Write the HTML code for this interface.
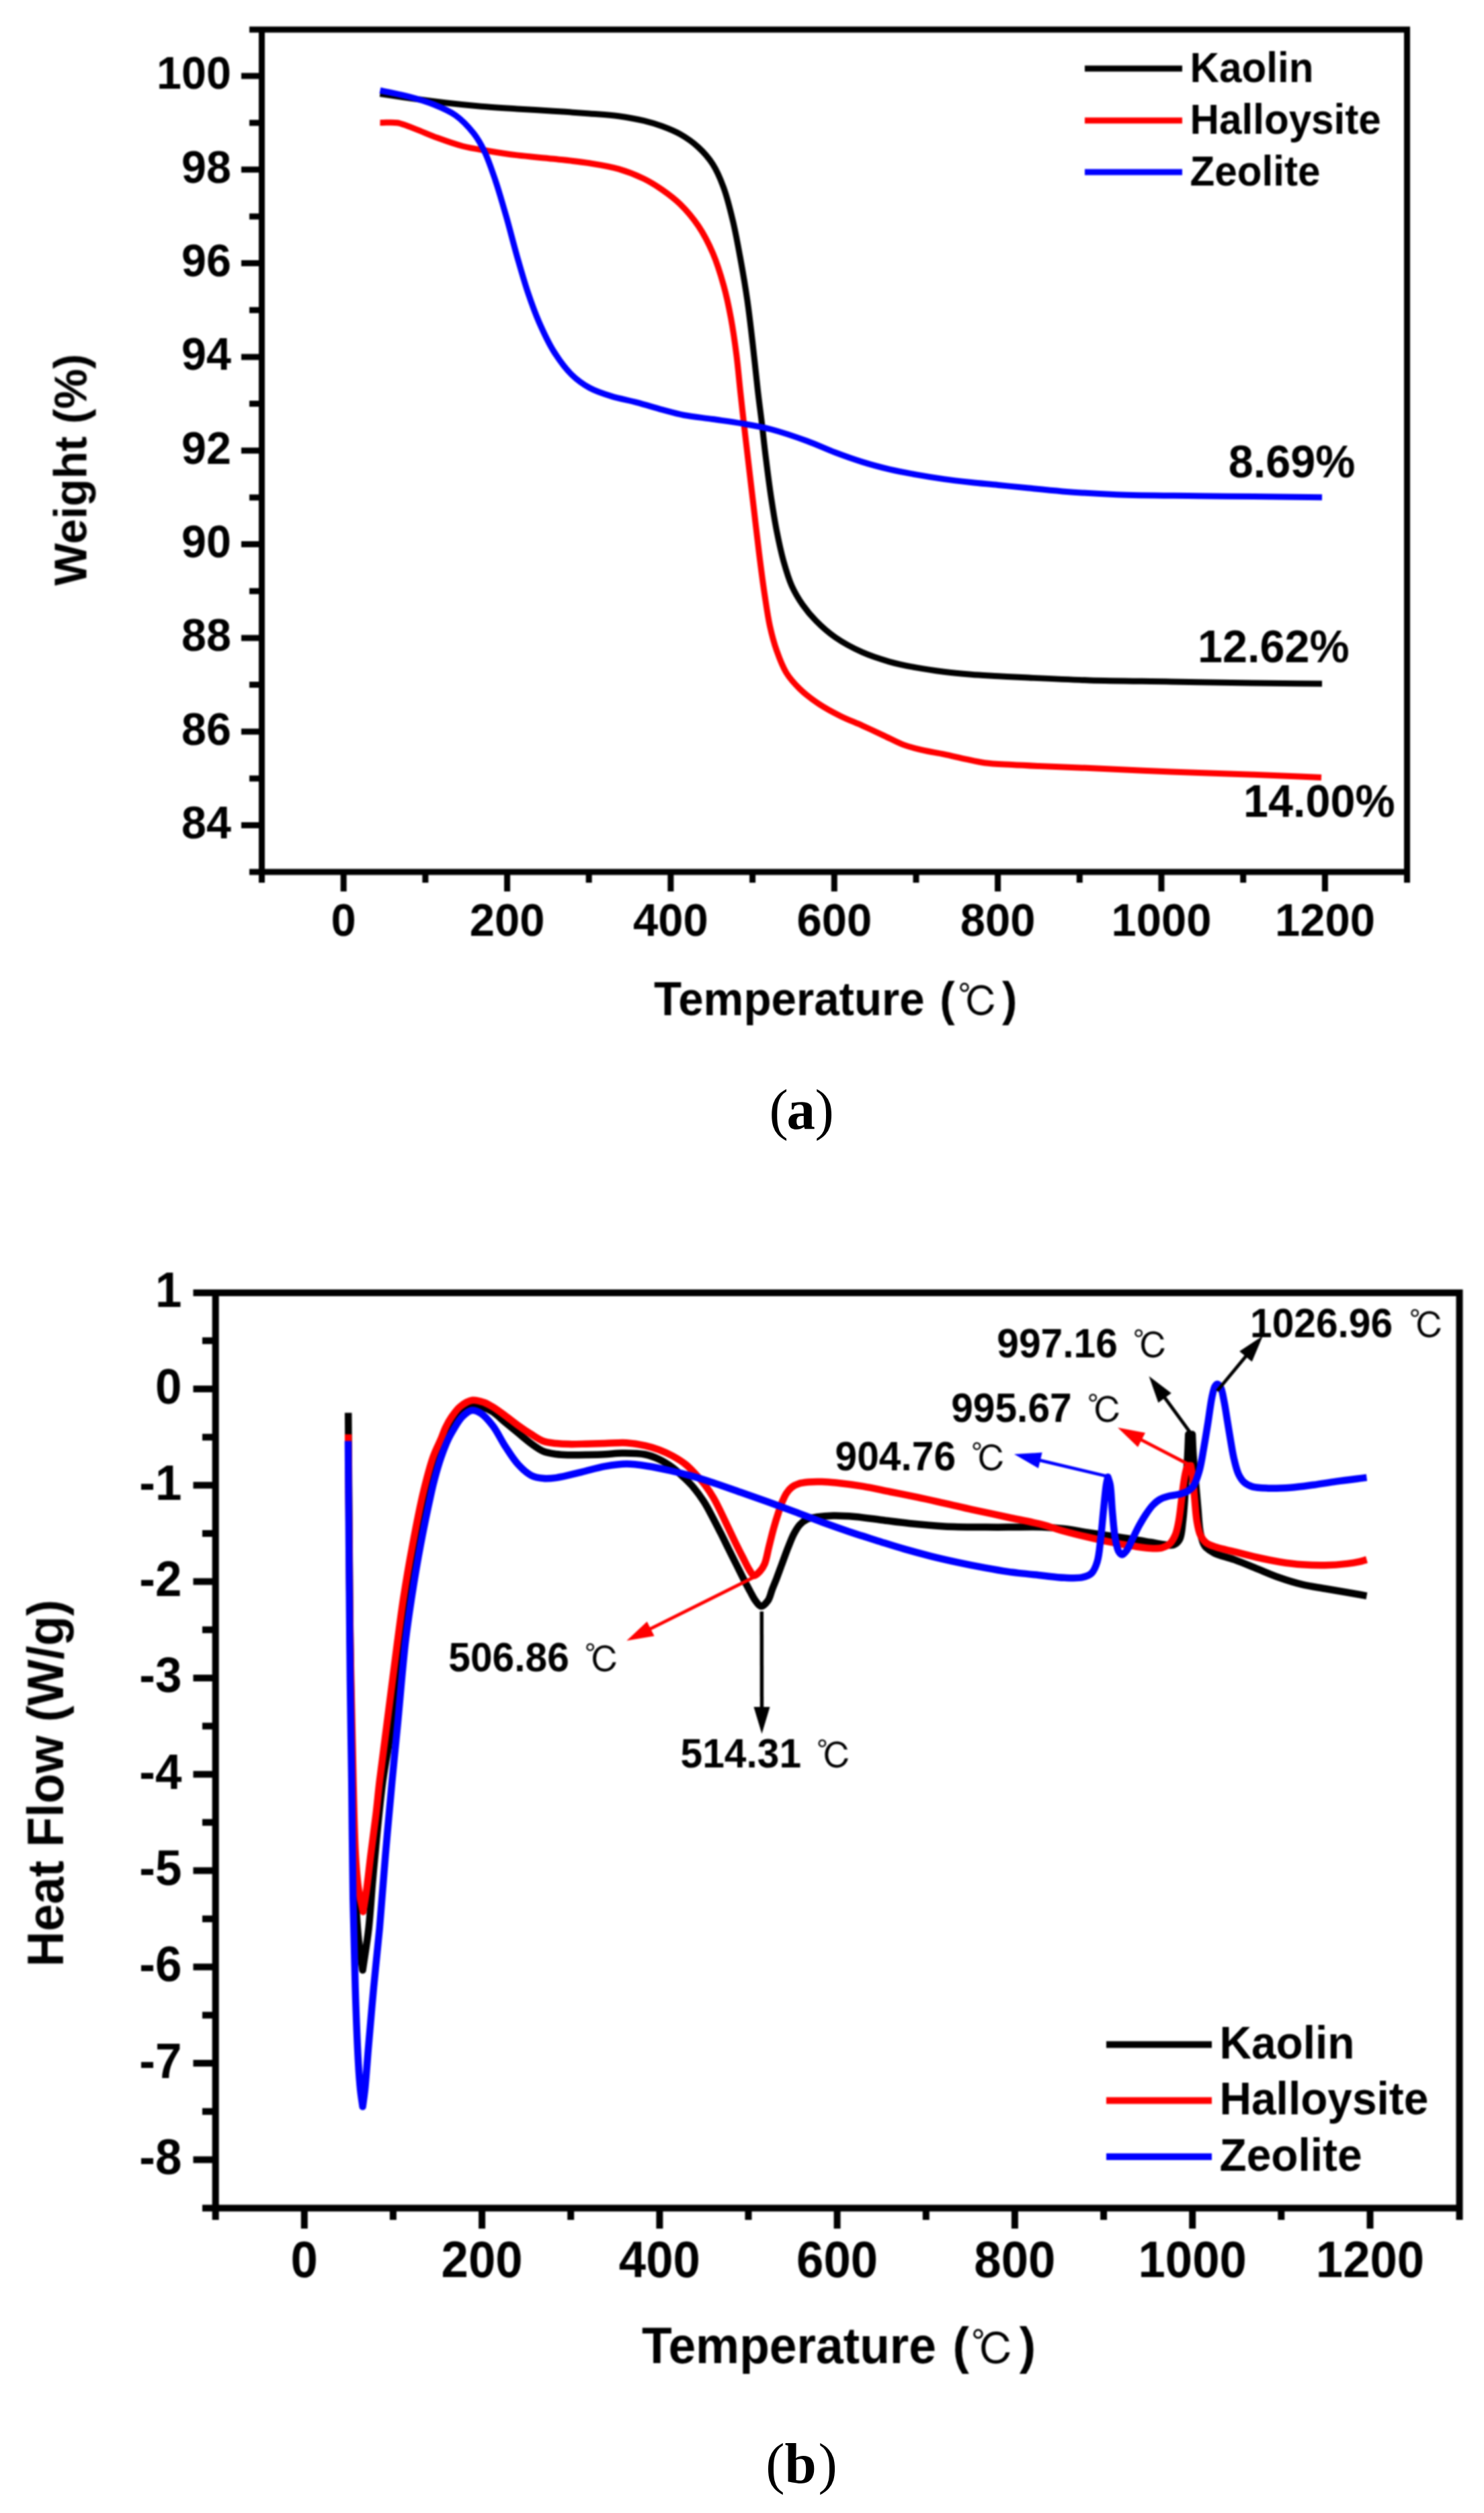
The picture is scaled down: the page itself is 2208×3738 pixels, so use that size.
<!DOCTYPE html>
<html lang="en"><head><meta charset="utf-8"><title>TG and DSC curves of Kaolin, Halloysite and Zeolite</title>
<style>html,body{margin:0;padding:0;background:#fff}svg{display:block}text{font-family:'Liberation Sans', sans-serif;font-weight:700;fill:#000}</style></head><body>
<svg width="2208" height="3738" viewBox="0 0 2208 3738">
<defs><filter id="soft" x="-2%" y="-2%" width="104%" height="104%" color-interpolation-filters="sRGB"><feGaussianBlur stdDeviation="0.85"/></filter></defs>
<rect width="2208" height="3738" fill="#fff"/>
<g id="chart-a" filter="url(#soft)">
<g stroke="#000" stroke-width="9" fill="none" stroke-linecap="butt">
<path d="M389.5 39.5 V1313.0 M2093.5 39.5 V1313.0 M371.0 44.0 H2098.0 M371.0 1297.0 H2098.0"/>
<path d="M359 1227.6H389.5M359 1088.2H389.5M359 948.9H389.5M359 809.6H389.5M359 670.3H389.5M359 531.0H389.5M359 391.6H389.5M359 252.3H389.5M359 113.0H389.5M371 1157.9H389.5M371 1018.6H389.5M371 879.3H389.5M371 739.9H389.5M371 600.6H389.5M371 461.3H389.5M371 322.0H389.5M371 182.7H389.5M511.2 1297.0V1326M754.6 1297.0V1326M997.9 1297.0V1326M1241.3 1297.0V1326M1484.6 1297.0V1326M1728.0 1297.0V1326M1971.4 1297.0V1326M632.9 1297.0V1313M876.2 1297.0V1313M1119.6 1297.0V1313M1363.0 1297.0V1313M1606.3 1297.0V1313M1849.7 1297.0V1313"/>
</g>
<g font-size="66.5" text-anchor="end">
<text transform="translate(344.0 1246.9) scale(1 1.035)">84</text>
<text transform="translate(344.0 1107.5) scale(1 1.035)">86</text>
<text transform="translate(344.0 968.2) scale(1 1.035)">88</text>
<text transform="translate(344.0 828.9) scale(1 1.035)">90</text>
<text transform="translate(344.0 689.6) scale(1 1.035)">92</text>
<text transform="translate(344.0 550.3) scale(1 1.035)">94</text>
<text transform="translate(344.0 410.9) scale(1 1.035)">96</text>
<text transform="translate(344.0 271.6) scale(1 1.035)">98</text>
<text transform="translate(344.0 132.3) scale(1 1.035)">100</text>
</g>
<g font-size="67" text-anchor="middle">
<text transform="translate(511.2 1391.8) scale(1 1.035)">0</text>
<text transform="translate(754.6 1391.8) scale(1 1.035)">200</text>
<text transform="translate(997.9 1391.8) scale(1 1.035)">400</text>
<text transform="translate(1241.3 1391.8) scale(1 1.035)">600</text>
<text transform="translate(1484.6 1391.8) scale(1 1.035)">800</text>
<text transform="translate(1728.0 1391.8) scale(1 1.035)">1000</text>
<text transform="translate(1971.4 1391.8) scale(1 1.035)">1200</text>
</g>
<text transform="translate(128.7 698.7) rotate(-90) scale(1 1.035)" font-size="67" text-anchor="middle">Weight (%)</text>
<text transform="translate(973.1 1509.5) scale(1 1.035)" font-size="67.3">Temperature</text>
<text transform="translate(1398.2 1509.5) scale(1 1.035)" font-size="67.3">(</text>
<text x="1425.0" y="1512.4" font-size="60.6" style="font-family:'Liberation Sans', 'IPAGothic', 'Noto Serif CJK SC', sans-serif;font-weight:400">℃</text>
<text transform="translate(1490.9 1509.5) scale(1 1.035)" font-size="67.3">)</text>
<g fill="none" stroke-width="9" stroke-linejoin="round" stroke-linecap="butt">
<path stroke="#000" d="M565.5 139.5C579.6 141.6 592.8 143.7 607.8 145.8C624.7 148.2 643.7 150.7 661.7 152.8C679.7 154.9 697.6 156.7 715.6 158.2C733.6 159.7 751.5 160.7 769.5 161.9C787.5 163.1 805.5 164.0 823.5 165.2C841.5 166.4 860.4 167.6 877.4 168.9C892.6 170.1 906.7 170.8 920.5 172.7C933.5 174.5 946.7 176.9 958.2 179.7C968.0 182.1 976.3 184.5 985.2 187.8C994.3 191.2 1003.4 194.7 1012.1 199.7C1021.4 205.0 1031.0 211.6 1039.1 219.1C1047.2 226.5 1054.5 234.8 1060.6 244.4C1067.2 254.8 1072.1 266.6 1076.8 279.5C1082.2 294.2 1086.3 311.3 1090.3 328.0C1094.5 345.4 1097.6 363.1 1101.1 381.9C1104.9 402.5 1108.8 425.0 1111.9 446.6C1115.0 468.1 1117.4 489.4 1119.9 511.3C1122.5 533.8 1125.0 559.1 1127.4 580.0C1129.4 597.6 1131.4 612.0 1133.4 628.5C1135.5 645.7 1137.2 663.0 1139.5 681.1C1141.9 700.6 1144.7 722.6 1147.6 741.7C1150.2 758.8 1152.6 774.4 1155.7 790.2C1158.7 805.4 1161.9 820.7 1165.8 834.7C1169.4 847.5 1172.9 860.0 1177.9 871.1C1182.5 881.4 1188.0 890.6 1194.1 899.4C1200.1 908.1 1206.6 915.9 1214.3 923.7C1222.6 932.1 1231.9 940.5 1242.6 947.9C1254.5 956.1 1269.3 964.1 1283.0 970.2C1296.2 976.1 1309.9 980.4 1323.5 984.3C1336.9 988.1 1350.4 990.7 1363.9 993.2C1377.3 995.7 1390.8 997.6 1404.3 999.3C1417.7 1001.0 1431.2 1002.2 1444.7 1003.3C1458.2 1004.4 1471.7 1004.9 1485.2 1005.7C1498.7 1006.4 1509.3 1007.0 1525.6 1007.8C1550.7 1009.0 1587.5 1010.9 1621.3 1011.9C1659.3 1013.0 1702.2 1013.2 1742.6 1013.9C1783.0 1014.6 1825.1 1015.4 1863.9 1015.9C1899.7 1016.4 1932.6 1016.7 1967.0 1017.1"/>
<path stroke="#f00" d="M565.5 182.6C574.2 182.7 582.9 181.3 591.6 182.8C600.7 184.4 609.2 188.6 618.6 192.1C628.9 196.0 639.6 201.0 650.9 205.1C662.9 209.5 676.0 214.3 688.7 217.5C701.2 220.7 713.4 222.3 726.4 224.5C740.3 226.8 754.3 229.0 769.5 230.9C786.5 233.0 805.5 234.3 823.5 236.3C841.5 238.3 860.5 240.1 877.4 242.8C892.6 245.2 906.8 247.4 920.5 251.4C933.7 255.2 946.9 260.5 958.2 266.0C968.2 270.9 976.4 276.1 985.2 282.2C994.4 288.6 1003.5 295.3 1012.1 303.7C1021.6 313.0 1031.1 324.3 1039.1 336.1C1047.4 348.4 1054.4 362.1 1060.6 376.5C1067.1 391.7 1072.3 408.7 1076.8 425.0C1081.3 441.1 1084.5 456.9 1087.6 473.5C1090.8 490.9 1093.4 509.3 1095.7 527.4C1098.1 545.8 1099.6 565.0 1101.6 583.0C1103.4 600.0 1105.2 615.8 1107.1 632.6C1109.1 649.9 1111.0 666.4 1113.2 685.1C1115.7 706.5 1118.6 731.0 1121.3 753.9C1124.0 776.8 1126.6 800.4 1129.4 822.6C1132.0 843.4 1134.6 864.1 1137.5 883.2C1140.1 900.3 1142.3 916.9 1145.6 931.8C1148.5 944.9 1151.6 956.5 1155.7 968.1C1159.7 979.4 1163.9 990.9 1169.8 1000.5C1175.4 1009.6 1182.3 1017.2 1190.0 1024.7C1198.3 1032.7 1208.3 1040.3 1218.3 1047.0C1228.5 1053.8 1239.8 1059.8 1250.7 1065.2C1261.3 1070.5 1272.3 1074.5 1283.0 1079.3C1293.8 1084.2 1305.0 1089.4 1315.4 1094.3C1325.2 1098.9 1334.1 1104.0 1343.7 1107.6C1353.0 1111.1 1362.2 1113.4 1372.0 1115.7C1382.4 1118.2 1393.5 1119.6 1404.3 1121.8C1415.1 1124.0 1426.3 1126.9 1436.7 1129.1C1446.4 1131.2 1454.7 1133.3 1465.0 1134.7C1477.2 1136.3 1491.9 1136.7 1505.4 1137.5C1518.9 1138.3 1530.2 1138.8 1545.8 1139.5C1567.1 1140.4 1593.2 1141.3 1621.3 1142.5C1657.0 1144.0 1702.2 1146.5 1742.6 1148.1C1783.0 1149.7 1825.2 1150.8 1863.9 1152.2C1899.4 1153.5 1932.0 1155.0 1966.0 1156.4"/>
<path stroke="#00f" d="M565.5 134.5C579.6 137.5 594.2 140.0 607.8 143.6C620.8 147.0 633.7 150.7 645.6 155.5C657.0 160.1 668.1 164.6 677.9 171.6C688.0 178.8 697.5 189.1 704.9 198.6C711.6 207.2 716.0 215.3 721.0 225.6C727.0 238.1 732.0 253.4 737.2 268.7C742.9 285.6 748.1 304.2 753.4 322.6C758.9 341.9 764.0 362.6 769.5 381.9C774.8 400.3 780.0 418.9 785.7 435.8C790.9 451.1 795.7 464.7 801.9 478.9C808.3 493.4 815.2 508.7 823.5 522.0C831.5 534.7 840.7 547.6 850.4 557.1C858.8 565.4 867.6 571.6 877.4 577.0C887.3 582.4 898.4 585.9 909.7 589.4C921.7 593.1 934.9 595.3 947.4 598.6C960.0 601.9 973.1 606.1 985.2 609.4C996.4 612.4 1005.9 615.2 1017.5 617.5C1030.8 620.1 1046.2 621.4 1060.6 623.5C1075.0 625.6 1089.4 627.4 1103.8 629.9C1118.2 632.4 1131.9 634.6 1146.9 638.5C1164.0 643.0 1184.1 649.9 1200.8 656.0C1215.7 661.4 1228.7 667.8 1242.6 673.0C1256.1 678.1 1269.5 682.9 1283.0 687.1C1296.4 691.3 1310.0 694.9 1323.5 698.1C1336.9 701.2 1350.4 703.7 1363.9 706.1C1377.3 708.5 1390.8 710.7 1404.3 712.6C1417.7 714.5 1431.2 716.0 1444.7 717.5C1458.2 719.0 1471.7 720.1 1485.2 721.5C1498.7 722.8 1511.1 724.2 1525.6 725.6C1542.6 727.3 1560.7 729.3 1580.9 730.9C1605.3 732.8 1632.0 734.6 1661.7 735.7C1698.0 737.1 1742.6 737.1 1783.0 737.7C1823.4 738.2 1870.5 738.6 1904.3 739.0C1928.6 739.3 1946.1 739.5 1967.0 739.8"/>
</g>
<g stroke-width="9">
<line x1="1614" y1="102.0" x2="1759" y2="102.0" stroke="#000"/>
<line x1="1614" y1="179.2" x2="1759" y2="179.2" stroke="#f00"/>
<line x1="1614" y1="255.9" x2="1759" y2="255.9" stroke="#00f"/>
</g>
<g font-size="60.2">
<text transform="translate(1770.5 121.6) scale(1 1.035)">Kaolin</text>
<text transform="translate(1770.5 199.2) scale(1 1.035)">Halloysite</text>
<text transform="translate(1770.5 276.0) scale(1 1.035)">Zeolite</text>
</g>
<g font-size="66.5" text-anchor="end">
<text transform="translate(2016.3 710.0) scale(1 1.035)">8.69%</text>
<text transform="translate(2007.6 985.0) scale(1 1.035)">12.62%</text>
<text transform="translate(2075.5 1215.0) scale(1 1.035)">14.00%</text>
</g>
</g>
<g font-size="85" style="font-family:'Liberation Serif', serif;font-weight:400"><text x="1144.4" y="1679" style="font-family:inherit;font-weight:400">(</text><text x="1170.5" y="1679" style="font-family:inherit;font-weight:700">a</text><text x="1212.4" y="1679" style="font-family:inherit;font-weight:400">)</text></g>
<g id="chart-b" filter="url(#soft)">
<g stroke="#000" stroke-width="10" fill="none">
<path d="M320.7 1918.0 V3302.0 M2171.5 1918.0 V3302.0 M287.5 1923.0 H2176.5 M301.0 3284.5 H2176.5"/>
<path d="M287.5 3212.4H320.7M287.5 3069.1H320.7M287.5 2925.8H320.7M287.5 2782.5H320.7M287.5 2639.2H320.7M287.5 2495.9H320.7M287.5 2352.6H320.7M287.5 2209.3H320.7M287.5 2066.0H320.7M301 3140.8H320.7M301 2997.4H320.7M301 2854.2H320.7M301 2710.8H320.7M301 2567.6H320.7M301 2424.2H320.7M301 2280.9H320.7M301 2137.7H320.7M301 1994.3H320.7M452.8 3284.5V3315M717.1 3284.5V3315M981.4 3284.5V3315M1245.6 3284.5V3315M1509.9 3284.5V3315M1774.2 3284.5V3315M2038.5 3284.5V3315M584.9 3284.5V3302M849.2 3284.5V3302M1113.5 3284.5V3302M1377.8 3284.5V3302M1642.1 3284.5V3302M1906.3 3284.5V3302"/>
</g>
<g font-size="71" text-anchor="end">
<text transform="translate(270.5 3233.9) scale(1 1.035)">-8</text>
<text transform="translate(270.5 3090.6) scale(1 1.035)">-7</text>
<text transform="translate(270.5 2947.3) scale(1 1.035)">-6</text>
<text transform="translate(270.5 2804.0) scale(1 1.035)">-5</text>
<text transform="translate(270.5 2660.7) scale(1 1.035)">-4</text>
<text transform="translate(270.5 2517.4) scale(1 1.035)">-3</text>
<text transform="translate(270.5 2374.1) scale(1 1.035)">-2</text>
<text transform="translate(270.5 2230.8) scale(1 1.035)">-1</text>
<text transform="translate(270.5 2087.5) scale(1 1.035)">0</text>
<text transform="translate(270.5 1944.2) scale(1 1.035)">1</text>
</g>
<g font-size="72.6" text-anchor="middle">
<text transform="translate(452.8 3386.7) scale(1 1.035)">0</text>
<text transform="translate(717.1 3386.7) scale(1 1.035)">200</text>
<text transform="translate(981.4 3386.7) scale(1 1.035)">400</text>
<text transform="translate(1245.6 3386.7) scale(1 1.035)">600</text>
<text transform="translate(1509.9 3386.7) scale(1 1.035)">800</text>
<text transform="translate(1774.2 3386.7) scale(1 1.035)">1000</text>
<text transform="translate(2038.5 3386.7) scale(1 1.035)">1200</text>
</g>
<text transform="translate(94.2 2652.4) rotate(-90) scale(1 1.035)" font-size="72.8" text-anchor="middle">Heat Flow (W/g)</text>
<text transform="translate(955.1 3515.2) scale(1 1.035)" font-size="73.2">Temperature</text>
<text transform="translate(1417.4 3515.2) scale(1 1.035)" font-size="73.2">(</text>
<text x="1444.8" y="3518.2" font-size="64.9" style="font-family:'Liberation Sans', 'IPAGothic', 'Noto Serif CJK SC', sans-serif;font-weight:400">℃</text>
<text transform="translate(1516.7 3515.2) scale(1 1.035)" font-size="73.2">)</text>
<g fill="none" stroke-width="10.5" stroke-linejoin="round" stroke-linecap="butt">
<path stroke="#000" d="M518.2 2101.5C519.0 2201.0 519.5 2304.9 520.5 2400.0C521.4 2487.0 522.5 2577.3 524.0 2650.0C525.1 2706.4 526.1 2757.8 528.0 2800.0C529.4 2830.8 530.7 2856.4 533.0 2880.0C534.8 2898.8 537.4 2913.7 539.6 2930.5C542.6 2909.9 546.1 2889.7 548.5 2868.8C550.9 2847.3 552.1 2825.1 554.0 2803.2C555.9 2781.3 557.7 2761.0 560.0 2737.5C562.7 2710.4 565.6 2678.8 569.5 2650.0C573.3 2621.7 578.8 2596.8 583.0 2566.0C588.1 2528.7 593.0 2476.5 597.3 2442.0C600.4 2417.3 602.6 2400.8 606.0 2378.5C609.9 2353.4 614.6 2325.4 619.6 2298.9C624.6 2272.3 630.4 2242.9 636.0 2219.2C640.6 2199.9 644.9 2181.5 650.0 2167.0C653.8 2156.2 658.5 2147.5 662.0 2139.6C664.6 2133.6 666.2 2128.9 669.0 2123.7C672.0 2118.2 675.7 2112.1 679.5 2107.5C682.8 2103.4 686.1 2099.9 690.0 2097.0C693.9 2094.1 698.4 2091.0 703.0 2090.3C707.7 2089.6 713.1 2091.4 718.0 2093.0C723.2 2094.7 728.1 2096.9 733.2 2100.2C739.4 2104.2 745.7 2110.8 752.0 2116.0C758.3 2121.2 764.6 2126.3 770.9 2131.5C777.2 2136.7 783.4 2142.4 789.8 2147.0C796.0 2151.4 802.2 2156.2 808.7 2158.9C814.8 2161.4 821.2 2162.1 827.5 2163.0C833.8 2163.9 839.6 2164.0 846.4 2164.2C854.3 2164.4 863.3 2164.2 872.0 2164.0C881.1 2163.8 890.9 2163.6 900.0 2163.2C908.6 2162.8 916.1 2161.5 925.2 2161.5C935.9 2161.4 950.1 2161.5 960.0 2163.5C967.8 2165.0 973.6 2167.4 980.2 2170.5C987.1 2173.7 994.1 2178.1 1000.4 2182.7C1006.6 2187.2 1012.1 2192.7 1017.5 2197.8C1022.7 2202.8 1027.6 2207.4 1032.3 2213.0C1037.4 2219.1 1042.5 2226.2 1047.0 2233.2C1051.6 2240.3 1055.4 2247.8 1059.5 2255.4C1063.7 2263.3 1067.9 2271.6 1072.0 2279.7C1076.1 2287.8 1080.0 2295.9 1084.0 2304.0C1088.0 2312.0 1092.2 2320.4 1096.0 2328.0C1099.5 2335.0 1102.6 2341.4 1106.0 2348.0C1109.3 2354.4 1112.8 2361.1 1116.0 2367.0C1118.9 2372.2 1121.3 2377.6 1124.4 2381.5C1126.9 2384.7 1129.6 2389.2 1132.5 2389.3C1135.6 2389.4 1139.9 2384.6 1142.6 2380.9C1145.7 2376.5 1146.8 2369.6 1149.0 2364.0C1151.1 2358.5 1153.3 2353.5 1155.5 2347.8C1157.9 2341.5 1160.2 2335.1 1162.8 2328.0C1165.9 2319.7 1169.6 2309.2 1172.9 2301.0C1175.7 2294.1 1178.0 2287.7 1181.0 2282.0C1183.7 2276.9 1186.5 2271.8 1190.0 2268.0C1193.1 2264.6 1196.5 2261.9 1200.5 2260.0C1204.8 2257.9 1209.8 2257.4 1215.4 2256.5C1222.5 2255.4 1230.9 2254.7 1239.6 2254.5C1249.6 2254.3 1260.6 2255.0 1272.0 2256.0C1284.7 2257.1 1298.9 2259.3 1312.4 2261.0C1325.9 2262.7 1338.4 2264.5 1352.8 2266.0C1369.2 2267.7 1387.2 2269.5 1405.4 2270.4C1424.9 2271.4 1448.7 2271.4 1466.0 2271.6C1479.0 2271.7 1487.6 2271.6 1500.0 2271.6C1515.1 2271.6 1535.0 2271.0 1550.0 2271.5C1562.3 2271.9 1572.5 2272.7 1583.7 2274.0C1595.0 2275.3 1606.2 2277.7 1617.4 2279.5C1628.6 2281.2 1639.9 2282.8 1651.1 2284.5C1662.3 2286.2 1674.2 2287.8 1684.8 2289.5C1694.3 2291.0 1703.4 2292.6 1711.7 2294.0C1718.9 2295.2 1725.8 2296.9 1731.9 2297.5C1737.0 2298.0 1742.1 2299.4 1746.0 2298.0C1749.6 2296.7 1752.8 2294.0 1755.0 2290.0C1758.5 2283.8 1758.6 2272.8 1760.0 2262.0C1761.9 2247.4 1762.8 2226.7 1764.0 2210.0C1765.1 2194.5 1766.3 2178.7 1767.0 2165.0C1767.6 2153.6 1767.9 2144.0 1768.3 2133.5C1770.2 2133.5 1772.1 2133.5 1774.0 2133.5C1774.5 2144.0 1774.7 2153.9 1775.5 2165.0C1776.3 2177.5 1777.8 2191.7 1779.0 2205.0C1780.2 2218.3 1781.3 2232.1 1782.5 2245.0C1783.6 2257.1 1783.9 2270.1 1786.0 2280.0C1787.6 2287.6 1788.9 2294.6 1792.6 2299.7C1795.9 2304.3 1800.3 2306.8 1806.0 2309.8C1813.8 2313.9 1826.1 2316.1 1836.4 2319.9C1847.4 2323.9 1858.9 2328.8 1870.1 2333.3C1881.3 2337.8 1892.5 2342.8 1903.8 2346.8C1914.9 2350.7 1926.2 2354.2 1937.5 2356.9C1948.7 2359.6 1960.0 2361.0 1971.2 2363.0C1982.4 2365.0 1994.1 2366.8 2004.9 2368.7C2014.8 2370.4 2024.0 2372.1 2033.5 2373.8"/>
<path stroke="#f00" d="M518.2 2133.5C519.0 2222.3 519.2 2312.6 520.5 2400.0C521.7 2484.7 523.8 2583.5 525.5 2650.0C526.6 2694.1 527.2 2730.5 529.0 2760.0C530.2 2779.9 531.3 2795.0 533.5 2810.0C535.3 2822.3 538.0 2832.3 540.2 2843.5C541.8 2833.7 543.4 2825.4 545.0 2814.1C547.2 2798.7 549.3 2778.0 551.6 2759.4C554.0 2740.0 557.0 2719.0 559.3 2700.0C561.4 2682.6 562.5 2668.8 564.7 2650.0C567.6 2625.6 571.6 2596.7 575.5 2566.0C580.3 2528.7 586.8 2476.5 591.4 2442.0C594.7 2417.3 596.7 2400.8 600.1 2378.5C604.0 2353.4 608.7 2325.4 613.7 2298.9C618.7 2272.3 624.3 2242.9 630.0 2219.2C634.7 2199.9 639.4 2181.5 644.5 2167.0C648.3 2156.2 653.2 2147.5 656.5 2139.6C659.0 2133.6 660.3 2128.9 662.8 2123.7C665.4 2118.2 668.4 2112.7 672.0 2107.5C675.8 2102.1 679.8 2096.1 685.0 2092.0C690.2 2087.9 696.9 2083.7 703.0 2082.8C708.6 2082.0 714.8 2084.2 720.0 2086.0C724.8 2087.7 728.5 2090.0 733.2 2092.8C739.0 2096.3 745.8 2101.5 752.0 2106.0C758.3 2110.6 764.5 2115.7 770.9 2120.2C777.1 2124.7 783.4 2129.0 789.8 2133.0C796.0 2136.9 802.2 2141.5 808.7 2143.8C814.8 2146.0 821.2 2146.3 827.5 2147.0C833.8 2147.7 839.6 2148.0 846.4 2148.1C854.3 2148.3 863.3 2147.9 872.0 2147.7C881.1 2147.5 890.3 2147.2 900.0 2147.0C910.4 2146.7 922.0 2145.6 932.3 2146.2C941.9 2146.8 951.6 2148.4 960.0 2150.3C967.3 2151.9 973.5 2153.9 980.2 2156.4C987.0 2159.0 993.8 2161.9 1000.4 2165.5C1007.3 2169.3 1014.5 2173.6 1020.6 2178.6C1026.6 2183.4 1031.9 2189.5 1036.8 2194.8C1041.2 2199.6 1045.0 2203.8 1048.9 2208.9C1053.1 2214.5 1057.4 2220.9 1061.1 2227.1C1064.8 2233.2 1067.7 2239.4 1071.0 2246.0C1074.6 2253.3 1078.3 2261.2 1082.0 2269.0C1085.9 2277.1 1090.0 2285.9 1093.9 2293.9C1097.6 2301.5 1101.3 2308.8 1105.0 2316.0C1108.5 2322.8 1112.2 2331.0 1115.5 2336.0C1117.7 2339.3 1119.4 2343.5 1121.8 2343.8C1124.3 2344.1 1128.0 2340.1 1130.5 2337.4C1133.3 2334.4 1135.6 2330.9 1137.6 2326.3C1140.4 2319.9 1141.7 2310.4 1143.8 2302.0C1146.1 2292.9 1148.5 2282.6 1151.0 2273.6C1153.3 2265.3 1155.8 2257.2 1158.2 2250.0C1160.2 2243.9 1162.0 2238.3 1164.2 2233.2C1166.1 2228.8 1167.8 2224.7 1170.2 2221.1C1172.5 2217.7 1175.2 2214.4 1178.3 2212.0C1181.3 2209.7 1184.6 2208.1 1188.4 2206.9C1192.6 2205.5 1197.4 2205.0 1202.6 2204.5C1208.7 2203.9 1216.0 2203.8 1222.8 2204.0C1229.7 2204.2 1235.6 2204.7 1243.7 2205.5C1255.0 2206.7 1270.7 2208.7 1284.1 2210.9C1297.6 2213.2 1311.0 2216.3 1324.5 2219.0C1338.0 2221.7 1351.5 2224.3 1365.0 2227.1C1378.5 2229.9 1391.9 2233.0 1405.4 2236.0C1418.9 2239.0 1431.3 2242.1 1445.8 2245.3C1462.5 2249.0 1482.3 2253.2 1500.0 2257.0C1517.0 2260.6 1535.0 2263.8 1550.0 2267.6C1562.4 2270.8 1572.4 2274.6 1583.7 2277.7C1594.9 2280.8 1606.1 2283.5 1617.4 2286.2C1628.6 2288.8 1639.8 2291.4 1651.1 2293.6C1662.3 2295.8 1674.2 2298.0 1684.8 2299.6C1694.3 2301.0 1703.8 2302.7 1711.7 2303.0C1718.0 2303.3 1723.6 2303.6 1728.6 2302.3C1733.0 2301.1 1737.1 2299.3 1740.4 2296.3C1744.0 2293.0 1746.6 2287.9 1748.8 2282.8C1751.3 2276.9 1752.4 2270.2 1753.8 2262.6C1755.6 2252.8 1756.8 2239.4 1758.2 2228.9C1759.4 2219.7 1760.3 2210.7 1761.6 2203.0C1762.6 2196.7 1763.7 2190.2 1765.0 2186.0C1765.8 2183.4 1766.7 2182.0 1767.5 2180.0C1768.9 2180.0 1770.4 2180.0 1771.8 2180.0C1772.6 2185.1 1773.5 2189.1 1774.3 2195.2C1775.5 2204.2 1776.3 2217.7 1777.4 2228.9C1778.5 2240.1 1779.1 2252.8 1780.8 2262.6C1782.1 2270.2 1783.2 2277.2 1785.8 2282.8C1788.0 2287.5 1790.6 2291.6 1794.3 2294.6C1798.3 2297.8 1803.5 2299.3 1809.4 2301.3C1817.0 2303.9 1826.9 2305.7 1836.4 2308.1C1847.0 2310.8 1858.8 2314.0 1870.1 2316.5C1881.3 2319.0 1892.5 2321.4 1903.8 2323.2C1915.0 2325.0 1926.2 2326.5 1937.5 2327.3C1948.7 2328.1 1960.0 2328.5 1971.2 2328.3C1982.4 2328.1 1995.6 2327.0 2004.9 2325.9C2011.5 2325.1 2016.6 2324.3 2021.7 2323.2C2026.0 2322.3 2029.6 2321.0 2033.5 2319.9"/>
<path stroke="#00f" d="M518.0 2143.5C518.4 2195.7 518.7 2244.6 519.2 2300.0C519.7 2362.6 520.3 2438.1 521.0 2500.0C521.6 2553.6 522.5 2598.1 523.2 2650.0C523.9 2706.1 524.3 2770.9 525.3 2825.0C526.2 2871.9 527.2 2914.5 528.6 2956.3C529.8 2994.4 531.4 3037.4 533.0 3065.7C534.0 3083.6 535.0 3097.1 536.3 3109.5C537.3 3118.7 538.5 3125.5 539.6 3133.5C540.7 3125.5 541.7 3119.5 542.8 3109.5C544.6 3093.0 546.3 3067.3 548.3 3043.9C550.6 3016.8 553.3 2985.5 556.0 2956.3C558.7 2927.1 561.9 2899.6 564.7 2868.8C567.8 2834.4 570.4 2795.9 573.5 2759.4C576.6 2722.9 580.1 2684.1 583.3 2650.0C586.1 2620.1 588.5 2596.7 591.5 2566.0C595.1 2528.7 599.3 2476.4 603.3 2442.0C606.2 2417.3 608.7 2400.8 612.1 2378.5C616.0 2353.4 620.6 2325.4 625.6 2298.9C630.6 2272.3 638.2 2236.4 642.0 2219.2C643.8 2210.9 644.5 2207.9 646.4 2200.9C648.9 2191.4 652.6 2178.1 656.3 2167.5C659.7 2157.7 663.8 2147.4 667.5 2139.6C670.3 2133.7 672.8 2129.7 675.9 2124.6C679.3 2119.1 682.9 2112.3 687.4 2107.8C691.5 2103.6 696.5 2098.8 701.3 2098.0C705.7 2097.3 710.5 2099.3 715.0 2102.0C721.1 2105.7 727.5 2113.4 733.2 2120.8C740.0 2129.6 745.6 2142.1 752.1 2151.9C758.2 2161.2 764.1 2170.9 770.9 2178.3C776.8 2184.7 783.1 2190.8 789.8 2194.3C795.8 2197.4 802.4 2198.5 808.7 2199.1C814.9 2199.7 820.2 2199.1 827.5 2198.1C838.0 2196.7 853.0 2192.5 865.3 2189.6C877.1 2186.8 888.6 2183.1 900.0 2181.1C910.9 2179.2 921.5 2177.5 932.3 2177.5C943.1 2177.5 953.9 2179.3 964.7 2181.0C975.5 2182.7 986.3 2185.1 997.0 2187.5C1007.8 2189.9 1018.7 2192.6 1029.4 2195.6C1040.2 2198.6 1050.4 2202.0 1061.7 2205.7C1074.5 2209.9 1088.7 2215.1 1102.2 2219.8C1115.7 2224.5 1129.2 2229.2 1142.6 2234.0C1156.1 2238.9 1169.5 2243.9 1183.0 2248.9C1196.5 2254.0 1210.0 2259.4 1223.5 2264.3C1236.9 2269.2 1250.4 2273.9 1263.9 2278.4C1277.3 2282.9 1290.8 2287.1 1304.3 2291.4C1317.8 2295.6 1331.2 2300.0 1344.7 2303.9C1358.2 2307.8 1371.7 2311.4 1385.2 2314.8C1398.6 2318.2 1412.1 2321.2 1425.6 2324.1C1439.0 2327.0 1453.1 2329.8 1466.0 2332.2C1477.8 2334.4 1487.6 2336.2 1500.0 2337.9C1515.0 2340.0 1535.0 2341.9 1550.0 2343.5C1562.3 2344.8 1573.1 2346.4 1583.7 2346.8C1593.2 2347.2 1603.3 2347.9 1610.6 2346.2C1616.0 2345.0 1620.5 2343.5 1624.1 2340.1C1628.1 2336.2 1630.4 2330.0 1632.5 2323.2C1635.4 2314.1 1636.1 2301.3 1637.6 2289.5C1639.2 2276.7 1640.2 2262.6 1641.6 2249.1C1643.0 2235.6 1644.5 2218.1 1646.0 2208.7C1646.8 2203.6 1647.6 2200.8 1648.4 2196.9C1649.5 2200.8 1650.9 2203.5 1651.8 2208.7C1653.5 2218.1 1653.8 2235.6 1655.1 2249.1C1656.4 2262.6 1657.4 2278.7 1659.5 2289.5C1660.9 2297.0 1662.2 2304.2 1664.6 2308.1C1666.0 2310.4 1667.8 2312.5 1669.6 2312.5C1671.7 2312.5 1674.2 2309.2 1676.3 2306.4C1679.4 2302.4 1681.8 2295.4 1684.8 2289.5C1688.0 2283.1 1691.4 2275.7 1694.9 2269.3C1698.2 2263.4 1701.5 2257.7 1705.0 2252.5C1708.2 2247.7 1711.5 2242.8 1715.1 2239.0C1718.3 2235.7 1721.4 2232.8 1725.2 2230.6C1729.2 2228.3 1734.1 2226.7 1738.7 2225.5C1743.1 2224.3 1747.7 2224.3 1752.2 2223.2C1756.7 2222.1 1761.6 2221.0 1765.6 2218.8C1769.4 2216.7 1772.9 2214.3 1775.7 2210.4C1779.5 2205.1 1781.8 2196.7 1784.2 2188.5C1787.1 2178.6 1788.8 2166.6 1790.9 2154.8C1793.2 2141.9 1795.5 2127.5 1797.6 2114.3C1799.6 2101.7 1801.3 2086.9 1803.4 2077.3C1804.8 2071.1 1805.9 2065.2 1807.7 2062.1C1808.7 2060.4 1809.9 2058.7 1811.1 2058.7C1812.6 2058.7 1814.8 2061.3 1816.2 2063.8C1818.6 2068.1 1819.7 2076.6 1821.2 2084.0C1823.1 2093.0 1824.6 2104.2 1826.3 2114.3C1828.0 2124.4 1829.6 2134.9 1831.3 2144.7C1832.9 2154.0 1834.3 2163.1 1836.4 2171.6C1838.3 2179.3 1840.1 2187.5 1843.1 2193.5C1845.5 2198.3 1848.1 2202.3 1851.6 2205.3C1854.9 2208.2 1858.6 2210.0 1863.3 2211.4C1869.7 2213.3 1878.3 2213.4 1886.9 2213.7C1897.1 2214.0 1909.4 2213.5 1920.6 2212.7C1931.9 2211.9 1943.1 2210.2 1954.3 2208.7C1965.5 2207.2 1975.9 2205.3 1988.0 2203.6C2002.0 2201.7 2018.3 2199.8 2033.5 2197.9"/>
</g>
<line x1="1121.8" y1="2346.0" x2="964.5" y2="2424.4" stroke="#f00" stroke-width="4.8"/><polygon points="932.3,2440.5 962.7,2411.9 973.5,2433.4" fill="#f00"/>
<line x1="1133.3" y1="2397.0" x2="1133.5" y2="2543.0" stroke="#000" stroke-width="5.5"/><polygon points="1133.5,2579.0 1121.5,2539.0 1145.5,2539.0" fill="#000"/>
<line x1="1647.7" y1="2196.0" x2="1543.9" y2="2171.3" stroke="#00f" stroke-width="4.8"/><polygon points="1508.9,2163.0 1550.6,2160.6 1545.0,2183.9" fill="#00f"/>
<line x1="1768.0" y1="2178.0" x2="1695.0" y2="2140.1" stroke="#f00" stroke-width="4.8"/><polygon points="1663.0,2123.5 1704.0,2131.3 1693.0,2152.6" fill="#f00"/>
<line x1="1771.0" y1="2131.0" x2="1730.8" y2="2076.0" stroke="#000" stroke-width="5.0"/><polygon points="1709.5,2047.0 1742.8,2072.2 1723.4,2086.4" fill="#000"/>
<line x1="1811.0" y1="2069.0" x2="1856.0" y2="2014.7" stroke="#000" stroke-width="5.0"/><polygon points="1879.0,1987.0 1862.7,2025.5 1844.2,2010.1" fill="#000"/>
<g stroke-width="10">
<line x1="1646" y1="3041.3" x2="1803" y2="3041.3" stroke="#000"/>
<line x1="1646" y1="3124.5" x2="1803" y2="3124.5" stroke="#f00"/>
<line x1="1646" y1="3208.1" x2="1803" y2="3208.1" stroke="#00f"/>
</g>
<g font-size="65.8">
<text transform="translate(1814.5 3061.8) scale(1 1.035)">Kaolin</text>
<text transform="translate(1814.5 3145.0) scale(1 1.035)">Halloysite</text>
<text transform="translate(1814.5 3229.0) scale(1 1.035)">Zeolite</text>
</g>
<g font-size="58.7">
<text transform="translate(667.3 2486.2) scale(1 1.035)">506.86</text>
<text x="869.5" y="2488.3" font-size="52.9" style="font-family:'Liberation Sans', 'IPAGothic', 'Noto Serif CJK SC', sans-serif;font-weight:400">℃</text>
<text transform="translate(1012.6 2629.2) scale(1 1.035)">514.31</text>
<text x="1214.8" y="2631.3" font-size="52.9" style="font-family:'Liberation Sans', 'IPAGothic', 'Noto Serif CJK SC', sans-serif;font-weight:400">℃</text>
<text transform="translate(1242.6 2186.5) scale(1 1.035)">904.76</text>
<text x="1444.8" y="2188.6" font-size="52.9" style="font-family:'Liberation Sans', 'IPAGothic', 'Noto Serif CJK SC', sans-serif;font-weight:400">℃</text>
<text transform="translate(1415.2 2115.2) scale(1 1.035)">995.67</text>
<text x="1617.4" y="2117.3" font-size="52.9" style="font-family:'Liberation Sans', 'IPAGothic', 'Noto Serif CJK SC', sans-serif;font-weight:400">℃</text>
<text transform="translate(1483.3 2018.8) scale(1 1.035)">997.16</text>
<text x="1685.5" y="2020.9" font-size="52.9" style="font-family:'Liberation Sans', 'IPAGothic', 'Noto Serif CJK SC', sans-serif;font-weight:400">℃</text>
<text transform="translate(1860.0 1988.8) scale(1 1.035)">1026.96</text>
<text x="2096.5" y="1990.9" font-size="52.9" style="font-family:'Liberation Sans', 'IPAGothic', 'Noto Serif CJK SC', sans-serif;font-weight:400">℃</text>
</g>
</g>
<g font-size="85" style="font-family:'Liberation Serif', serif;font-weight:400"><text x="1139.3" y="3692.7" style="font-family:inherit;font-weight:400">(</text><text x="1167.5" y="3692.7" style="font-family:inherit;font-weight:700">b</text><text x="1217.5" y="3692.7" style="font-family:inherit;font-weight:400">)</text></g>
</svg></body></html>
